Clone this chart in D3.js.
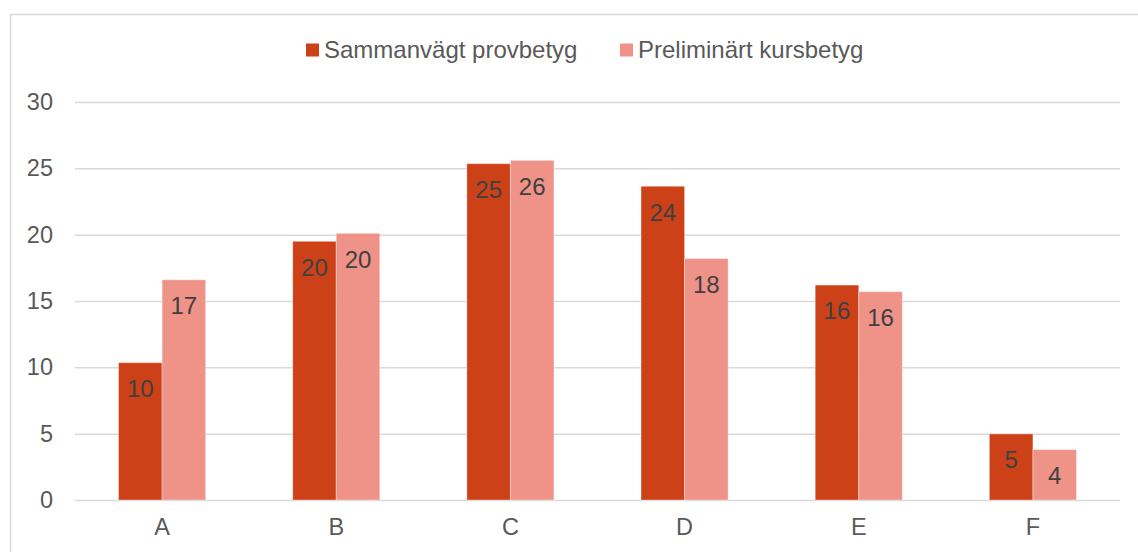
<!DOCTYPE html>
<html>
<head>
<meta charset="utf-8">
<script src="https://cdn.jsdelivr.net/npm/d3@7"></script>
<style>
  html, body { margin: 0; padding: 0; background: #fff; }
  svg { display: block; font-family: 'Liberation Sans', Arial, sans-serif; }
</style>
</head>
<body>
<svg id="chart" width="1138" height="552"></svg>
<script>
// chart data
const categories = ['A', 'B', 'C', 'D', 'E', 'F']
const seriesNames = ['Sammanvägt provbetyg', 'Preliminärt kursbetyg']
const provbetyg = [10.35, 19.5, 25.35, 23.65, 16.2, 4.98]
const kursbetyg = [16.6, 20.1, 25.6, 18.2, 15.7, 3.8]
const yTicks = [0, 5, 10, 15, 20, 25, 30]

const COLORS = ['#cd4119', '#ef9389']
const TEXT = '#595959'
const GRID = '#d9d9d9'

const width = 1138, height = 552
const plot = { left: 75, right: 1120, top: 102, bottom: 500 }

let svg = d3.select('#chart')

// outer chart frame (runs off the right and bottom edges)
svg.append('rect')
    .attr('x', 10.5).attr('y', 14.5)
    .attr('width', 1160).attr('height', 600)
    .attr('fill', '#fff')
    .attr('stroke', GRID)
    .attr('stroke-width', 1.5)

let x = d3.scaleBand().domain(categories).range([plot.left, plot.right])
let xInner = d3.scaleBand().domain(seriesNames)
    .range([x.bandwidth() * 0.25, x.bandwidth() * 0.75])
let y = d3.scaleLinear().domain([0, 30]).range([plot.bottom, plot.top])

// gridlines + y labels
let yAxis = d3.axisLeft(y).tickValues(yTicks).tickSize(-(plot.right - plot.left)).tickPadding(22)
let gy = svg.append('g').attr('transform', `translate(${plot.left},0)`).call(yAxis)
gy.select('.domain').remove()
gy.selectAll('.tick line').attr('stroke', GRID).attr('stroke-width', 1.5)
gy.selectAll('.tick text')
    .attr('fill', TEXT)
    .attr('font-size', 23.5)
    .attr('font-family', "'Liberation Sans', Arial, sans-serif")

// x labels
let xAxis = d3.axisBottom(x).tickSize(0).tickPadding(18)
let gx = svg.append('g').attr('transform', `translate(0,${plot.bottom})`).call(xAxis)
gx.select('.domain').remove()
gx.selectAll('.tick text')
    .attr('fill', TEXT)
    .attr('font-size', 23.5)
    .attr('font-family', "'Liberation Sans', Arial, sans-serif")

// bars
let rows = categories.map((c, i) => ({ cat: c, values: [provbetyg[i], kursbetyg[i]] }))
let groups = svg.append('g').selectAll('g')
    .data(rows)
    .join('g')
    .attr('transform', d => `translate(${x(d.cat)},0)`)

let cells = groups.selectAll('g')
    .data(d => d.values.map((v, k) => ({ name: seriesNames[k], value: v, k })))
    .join('g')

cells.append('rect')
    .attr('x', d => xInner(d.name))
    .attr('y', d => y(d.value))
    .attr('width', xInner.bandwidth())
    .attr('height', d => y(0) - y(d.value))
    .attr('fill', d => COLORS[d.k])
    .attr('stroke', 'rgba(255,255,255,0.35)')
    .attr('stroke-width', 1)

cells.append('text')
    .attr('x', d => xInner(d.name) + xInner.bandwidth() / 2)
    .attr('y', d => y(d.value) + 26)
    .attr('dy', '0.35em')
    .attr('text-anchor', 'middle')
    .attr('fill', '#404040')
    .attr('font-size', 24)
    .text(d => d3.format('.0f')(d.value))

// legend
let legendPos = [306, 620]
let legend = svg.append('g').selectAll('g')
    .data(seriesNames)
    .join('g')
    .attr('transform', (d, i) => `translate(${legendPos[i]},50)`)

legend.append('rect')
    .attr('x', 0).attr('y', -6.5)
    .attr('width', 13).attr('height', 13)
    .attr('fill', (d, i) => COLORS[i])

legend.append('text')
    .attr('x', 18)
    .attr('dy', '0.35em')
    .attr('fill', TEXT)
    .attr('font-size', 24)
    .text(d => d)
</script>
</body>
</html>
